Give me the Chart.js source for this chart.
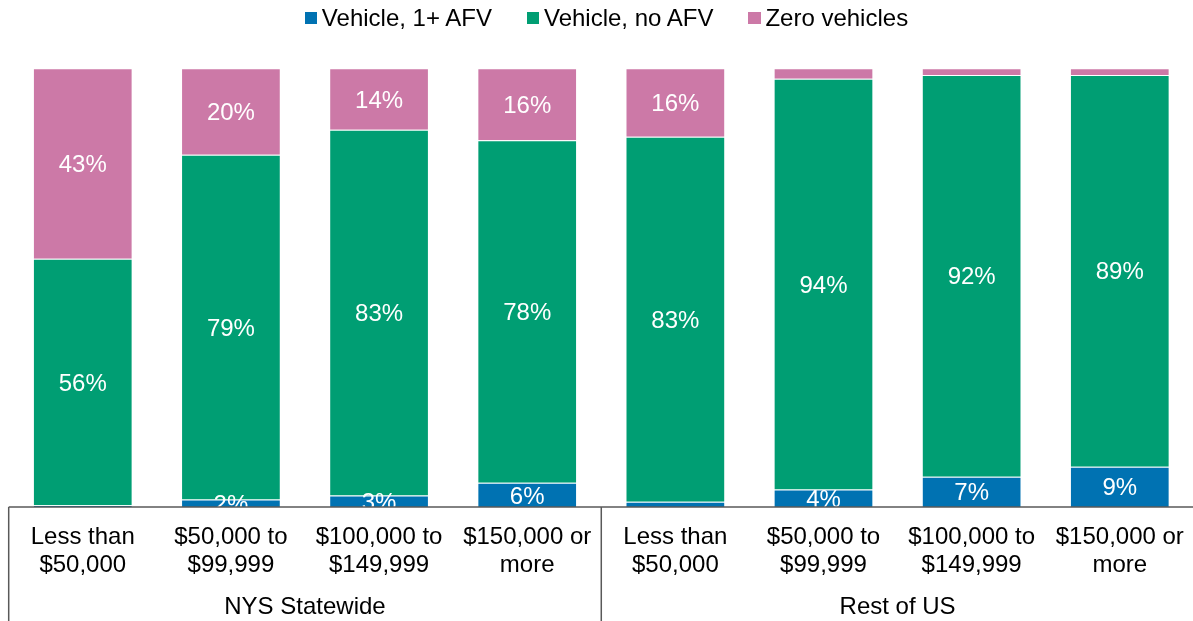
<!DOCTYPE html>
<html>
<head>
<meta charset="utf-8">
<script src="https://cdn.jsdelivr.net/npm/chart.js@4.4.1/dist/chart.umd.min.js"></script>
<style>
html,body{margin:0;padding:0;background:#fff;overflow:hidden;}
#wrap{position:relative;width:1200px;height:621px;}
canvas{position:absolute;top:0;left:0;}
#legend{position:absolute;top:0;left:0;width:1200px;height:36px;padding-left:13px;box-sizing:border-box;display:flex;justify-content:center;align-items:center;font:24px "Liberation Sans",Arial,sans-serif;color:#000;}
.item{display:flex;align-items:center;margin:0 17.5px;white-space:nowrap;}
.box{width:12.5px;height:12.5px;margin-right:4.5px;}
</style>
</head>
<body>
<div id="wrap">
<canvas id="c" width="1200" height="621"></canvas>
<div id="legend"></div>
</div>
<script>
const categories = [
  ["Less than", "$50,000"], ["$50,000 to", "$99,999"], ["$100,000 to", "$149,999"], ["$150,000 or", "more"],
  ["Less than", "$50,000"], ["$50,000 to", "$99,999"], ["$100,000 to", "$149,999"], ["$150,000 or", "more"]
];
const groups = ["NYS Statewide", "Rest of US"];
const seriesNames = ["Vehicle, 1+ AFV", "Vehicle, no AFV", "Zero vehicles"];
const afv   = [0.4, 1.7, 2.6, 5.5, 1.2, 4.0, 6.9, 9.2];
const noAfv = [56.2, 78.6, 83.4, 78.1, 83.2, 93.6, 91.6, 89.3];
const zero  = [43.4, 19.7, 14.0, 16.4, 15.6, 2.4, 1.5, 1.5];
const colors = ["#0072B2", "#009E73", "#CC79A7"];
const labelMin = [1.5, 1.5, 5];

const FONT = '"Liberation Sans", Arial, sans-serif';
Chart.defaults.font.family = FONT;

// HTML legend
const legendEl = document.getElementById('legend');
seriesNames.forEach((n, i) => {
  const it = document.createElement('div'); it.className = 'item';
  const b = document.createElement('span'); b.className = 'box'; b.style.background = colors[i];
  const t = document.createElement('span'); t.textContent = n;
  it.appendChild(b); it.appendChild(t); legendEl.appendChild(it);
});

const valueLabels = {
  id: 'valueLabels',
  afterDatasetsDraw(chart) {
    const { ctx, chartArea: a } = chart;
    ctx.save();
    ctx.beginPath();
    ctx.rect(a.left, a.top, a.right - a.left, a.bottom - a.top);
    ctx.clip();
    ctx.font = '24px ' + FONT;
    ctx.fillStyle = '#ffffff';
    ctx.textAlign = 'center';
    ctx.textBaseline = 'middle';
    chart.data.datasets.forEach((ds, i) => {
      const meta = chart.getDatasetMeta(i);
      meta.data.forEach((el, j) => {
        const v = ds.data[j];
        if (v < labelMin[i]) return;
        ctx.fillText(Math.round(v) + '%', el.x, (el.y + el.base) / 2 + 2);
      });
    });
    ctx.restore();
  }
};

const axisBox = {
  id: 'axisBox',
  afterDraw(chart) {
    const { ctx, chartArea: a } = chart;
    const x = chart.scales.x;
    const step = x.getPixelForValue(1) - x.getPixelForValue(0);
    const left = x.getPixelForValue(0) - step / 2;
    const mid = x.getPixelForValue(4) - step / 2;
    const right = x.getPixelForValue(7) + step / 2;
    ctx.save();
    ctx.strokeStyle = '#595959';
    ctx.lineWidth = 1.5;
    ctx.beginPath();
    ctx.moveTo(left, a.bottom); ctx.lineTo(right, a.bottom);
    [left, mid, right].forEach(px => { ctx.moveTo(px, a.bottom); ctx.lineTo(px, chart.height); });
    ctx.stroke();
    ctx.restore();
  }
};

const seriesData = [afv, noAfv, zero];
new Chart(document.getElementById('c'), {
  type: 'bar',
  data: {
    labels: categories,
    datasets: seriesData.map((d, i) => ({
      label: seriesNames[i],
      data: d,
      backgroundColor: colors[i],
      borderColor: 'rgba(255,255,255,0.25)',
      borderWidth: 1,
      categoryPercentage: 1,
      barPercentage: 0.673,
      xAxisID: 'x'
    }))
  },
  options: {
    responsive: false,
    devicePixelRatio: 1,
    animation: false,
    layout: { padding: { left: 8.7, right: 2.5, top: 68.3, bottom: 0 } },
    plugins: { legend: { display: false }, tooltip: { enabled: false } },
    scales: {
      y: { stacked: true, min: 0, max: 100, display: false },
      x: {
        stacked: true, offset: true, weight: 0,
        grid: { display: false, drawTicks: false },
        border: { display: false },
        ticks: { color: '#000', font: { size: 24, lineHeight: '28px' }, padding: 16, maxRotation: 0, autoSkip: false },
        afterFit(s) { s.height = 84; }
      },
      x2: {
        type: 'category', labels: groups, position: 'bottom', offset: true, weight: 1,
        grid: { display: false, drawTicks: false },
        border: { display: false },
        ticks: { color: '#000', font: { size: 24, lineHeight: '28px' }, padding: 2, maxRotation: 0, autoSkip: false },
        afterFit(s) { s.height = 30; }
      }
    }
  },
  plugins: [valueLabels, axisBox]
});
</script>
</body>
</html>
